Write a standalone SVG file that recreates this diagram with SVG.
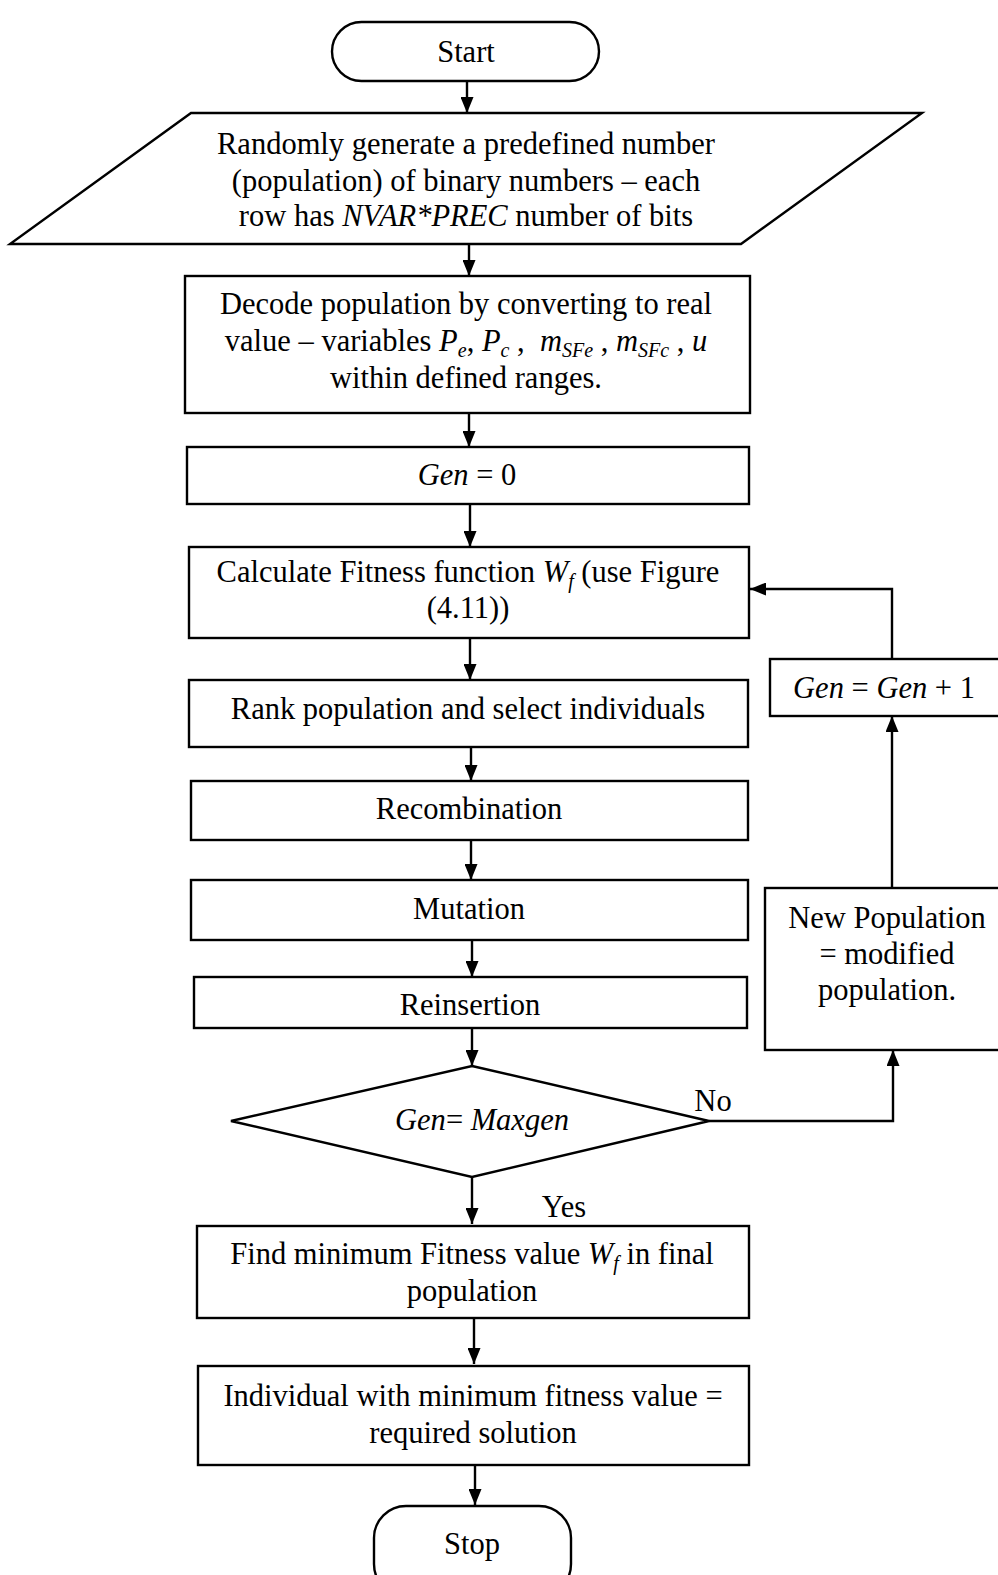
<svg xmlns="http://www.w3.org/2000/svg" width="998" height="1575" viewBox="0 0 998 1575">
<style>
.b{fill:#fff;stroke:#000;stroke-width:2.4}
.t{font-family:"Liberation Serif","Times New Roman",serif;font-size:30.5px;fill:#000;text-anchor:middle}
.i{font-style:italic}
.s{font-size:20px}
.c{fill:none;stroke:#000;stroke-width:2.4}
</style>
<defs>
<marker id="ah" viewBox="0 0 16 13" refX="16" refY="6.5" markerWidth="16" markerHeight="13" markerUnits="userSpaceOnUse" orient="auto">
<path d="M0,0 L16,6.5 L0,13 z" fill="#000"/>
</marker>
</defs>
<rect width="998" height="1575" fill="#fff"/>
<g id="connectors">
<line class="c" x1="467" y1="81" x2="467" y2="113" marker-end="url(#ah)"/>
<line class="c" x1="469" y1="244" x2="469" y2="276" marker-end="url(#ah)"/>
<line class="c" x1="469" y1="413" x2="469" y2="447" marker-end="url(#ah)"/>
<line class="c" x1="470" y1="504" x2="470" y2="547" marker-end="url(#ah)"/>
<line class="c" x1="470" y1="638" x2="470" y2="680" marker-end="url(#ah)"/>
<line class="c" x1="471" y1="747" x2="471" y2="781" marker-end="url(#ah)"/>
<line class="c" x1="471" y1="840" x2="471" y2="880" marker-end="url(#ah)"/>
<line class="c" x1="472" y1="940" x2="472" y2="977" marker-end="url(#ah)"/>
<line class="c" x1="472" y1="1028" x2="472" y2="1066" marker-end="url(#ah)"/>
<line class="c" x1="472" y1="1177" x2="472" y2="1224" marker-end="url(#ah)"/>
<line class="c" x1="474" y1="1318" x2="474" y2="1364" marker-end="url(#ah)"/>
<line class="c" x1="475" y1="1465" x2="475" y2="1505" marker-end="url(#ah)"/>
<polyline class="c" points="709,1121 893,1121 893,1050" marker-end="url(#ah)"/>
<line class="c" x1="892" y1="888" x2="892" y2="716" marker-end="url(#ah)"/>
<polyline class="c" points="892,659 892,589 750,589" marker-end="url(#ah)"/>
<text class="t" x="713" y="1111">No</text>
<text class="t" x="564" y="1217">Yes</text>
</g>
<g id="start">
<rect class="b" x="332" y="22" width="267" height="59" rx="29.5"/>
<text class="t" x="466" y="62">Start</text>
</g>
<g id="generate">
<polygon class="b" points="191,113 922,113 741,244 10,244"/>
<text class="t" x="466" y="154">Randomly generate a predefined number</text>
<text class="t" x="466" y="191">(population) of binary numbers – each</text>
<text class="t" x="466" y="226">row has <tspan class="i">NVAR*PREC</tspan> number of bits</text>
</g>
<g id="decode">
<rect class="b" x="185" y="276" width="565" height="137"/>
<text class="t" x="466" y="314">Decode population by converting to real</text>
<text class="t" x="466" y="351" xml:space="preserve">value – variables <tspan class="i">P</tspan><tspan class="i s" dy="6">e</tspan><tspan dy="-6">, </tspan><tspan class="i">P</tspan><tspan class="i s" dy="6">c</tspan><tspan dy="-6"> ,  </tspan><tspan class="i">m</tspan><tspan class="i s" dy="6">SFe</tspan><tspan dy="-6"> , </tspan><tspan class="i">m</tspan><tspan class="i s" dy="6">SFc</tspan><tspan dy="-6"> , </tspan><tspan class="i">u</tspan></text>
<text class="t" x="466" y="388">within defined ranges.</text>
</g>
<g id="gen0">
<rect class="b" x="187" y="447" width="562" height="57"/>
<text class="t" x="467" y="485"><tspan class="i">Gen</tspan> = 0</text>
</g>
<g id="calculate">
<rect class="b" x="189" y="547" width="560" height="91"/>
<text class="t" x="468" y="582">Calculate Fitness function <tspan class="i">W</tspan><tspan class="i s" dy="6">f</tspan><tspan dy="-6"> (use Figure</tspan></text>
<text class="t" x="468" y="618">(4.11))</text>
</g>
<g id="rank">
<rect class="b" x="189" y="680" width="559" height="67"/>
<text class="t" x="468" y="719">Rank population and select individuals</text>
</g>
<g id="recombination">
<rect class="b" x="191" y="781" width="557" height="59"/>
<text class="t" x="469" y="819">Recombination</text>
</g>
<g id="mutation">
<rect class="b" x="191" y="880" width="557" height="60"/>
<text class="t" x="469" y="919">Mutation</text>
</g>
<g id="reinsertion">
<rect class="b" x="194" y="977" width="553" height="51"/>
<text class="t" x="470" y="1015">Reinsertion</text>
</g>
<g id="decision">
<polygon class="b" points="472,1066 709,1121 472,1177 231,1121"/>
<text class="t" x="482" y="1130"><tspan class="i">Gen</tspan>= <tspan class="i">Maxgen</tspan></text>
</g>
<g id="newpop">
<rect class="b" x="765" y="888" width="240" height="162"/>
<text class="t" x="887" y="928">New Population</text>
<text class="t" x="887" y="964">= modified</text>
<text class="t" x="887" y="1000">population.</text>
</g>
<g id="geninc">
<rect class="b" x="770" y="659" width="235" height="57"/>
<text class="t" x="884" y="698"><tspan class="i">Gen</tspan> = <tspan class="i">Gen</tspan> + 1</text>
</g>
<g id="findmin">
<rect class="b" x="197" y="1226" width="552" height="92"/>
<text class="t" x="472" y="1264">Find minimum Fitness value <tspan class="i">W</tspan><tspan class="i s" dy="6">f</tspan><tspan dy="-6"> in final</tspan></text>
<text class="t" x="472" y="1301">population</text>
</g>
<g id="individual">
<rect class="b" x="198" y="1366" width="551" height="99"/>
<text class="t" x="473" y="1406">Individual with minimum fitness value =</text>
<text class="t" x="473" y="1443">required solution</text>
</g>
<g id="stop">
<rect class="b" x="374" y="1506" width="197" height="90" rx="32"/>
<text class="t" x="472" y="1554">Stop</text>
</g>
</svg>
